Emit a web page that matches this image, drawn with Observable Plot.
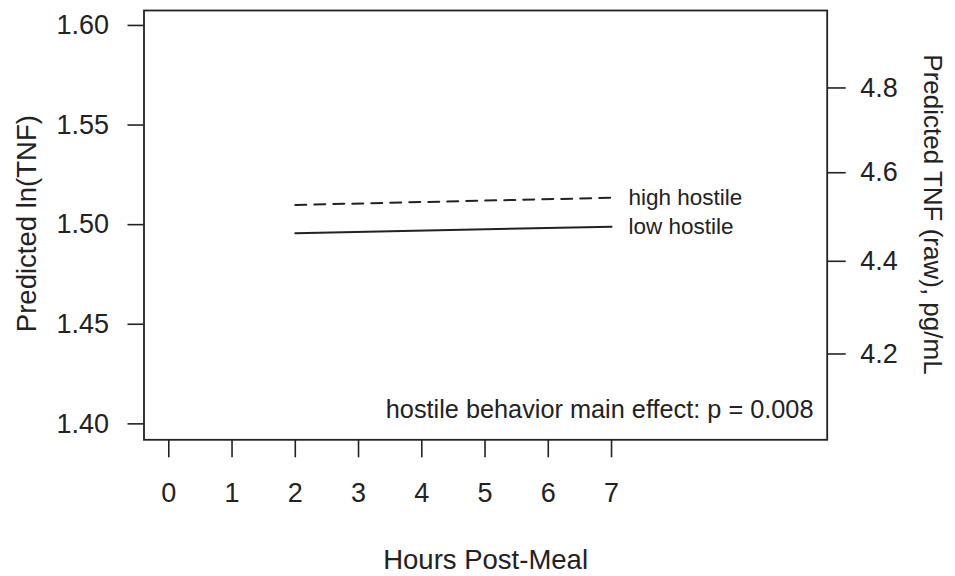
<!DOCTYPE html>
<html><head><meta charset="utf-8">
<script src="https://cdn.jsdelivr.net/npm/d3@7"></script>
<script src="https://cdn.jsdelivr.net/npm/@observablehq/plot@0.6"></script>
<style>body{margin:0;background:#fff} svg{display:block}</style>
</head><body><div id="chart"></div>
<script>
// ---- data ----
const hours = [2, 7];
const highHostile = [1.5099, 1.5135];
const lowHostile = [1.4957, 1.4990];
const seriesNames = ["high hostile", "low hostile"];
const xTicks = [0, 1, 2, 3, 4, 5, 6, 7];
const yTicks = [1.40, 1.45, 1.50, 1.55, 1.60];
const rawTicks = [4.2, 4.4, 4.6, 4.8];
const xTitle = "Hours Post-Meal";
const yTitle = "Predicted ln(TNF)";
const y2Title = "Predicted TNF (raw), pg/mL";
const annotation = "hostile behavior main effect: p = 0.008";

const rows = [
  ...hours.map((h, i) => ({hour: h, value: highHostile[i], series: seriesNames[0]})),
  ...hours.map((h, i) => ({hour: h, value: lowHostile[i], series: seriesNames[1]}))
];
const endRows = seriesNames.map(s => rows.filter(r => r.series === s).slice(-1)[0]);

const ink = "#222";
const W = 955, H = 576;

const chart = Plot.plot({
  width: W,
  height: H,
  marginLeft: 143.5,
  marginRight: 128.3,
  marginTop: 10,
  marginBottom: 136.7,
  style: {fontFamily: "'Liberation Sans', Arial, Helvetica, sans-serif", color: ink, background: "#fff"},
  x: {domain: [-0.392, 10.41]},
  y: {domain: [1.392, 1.6075]},
  marks: [
    Plot.frame({stroke: ink, strokeWidth: 1.8}),
    Plot.axisX({ticks: xTicks, tickSize: 18, tickPadding: 25, fontSize: 27, tickFormat: d => String(d), label: null, stroke: ink, strokeWidth: 1.6}),
    Plot.axisY({anchor: "left", ticks: yTicks, tickSize: 16, tickPadding: 19, fontSize: 27, tickFormat: d3.format(".2f"), label: null, stroke: ink, strokeWidth: 1.6}),
    Plot.axisY({anchor: "right", ticks: rawTicks.map(Math.log), tickSize: 18, tickPadding: 15, fontSize: 27, tickFormat: d => Math.exp(d).toFixed(1), label: null, stroke: ink, strokeWidth: 1.6}),
    Plot.line(rows.filter(r => r.series === seriesNames[0]), {x: "hour", y: "value", stroke: ink, strokeWidth: 2, strokeDasharray: "11,8"}),
    Plot.line(rows.filter(r => r.series === seriesNames[1]), {x: "hour", y: "value", stroke: ink, strokeWidth: 2}),
    Plot.text(endRows, {x: "hour", y: "value", text: "series", dx: 17, textAnchor: "start", fontSize: 22.5, fill: ink}),
    Plot.text([annotation], {frameAnchor: "bottom-right", dx: -13.7, dy: -30, textAnchor: "end", lineAnchor: "middle", fontSize: 25.3, fill: ink}),
    Plot.text([xTitle], {frameAnchor: "bottom", dy: 120, lineAnchor: "middle", fontSize: 27.5, fill: ink}),
    Plot.text([yTitle], {frameAnchor: "left", dx: -117, dy: -1.5, rotate: -90, textAnchor: "middle", lineAnchor: "middle", fontSize: 27.5, fill: ink}),
    Plot.text([y2Title], {frameAnchor: "right", dx: 105, dy: -10.7, rotate: 90, textAnchor: "middle", lineAnchor: "middle", fontSize: 26, fill: ink})
  ]
});
document.getElementById("chart").appendChild(chart);
</script>
</body></html>
